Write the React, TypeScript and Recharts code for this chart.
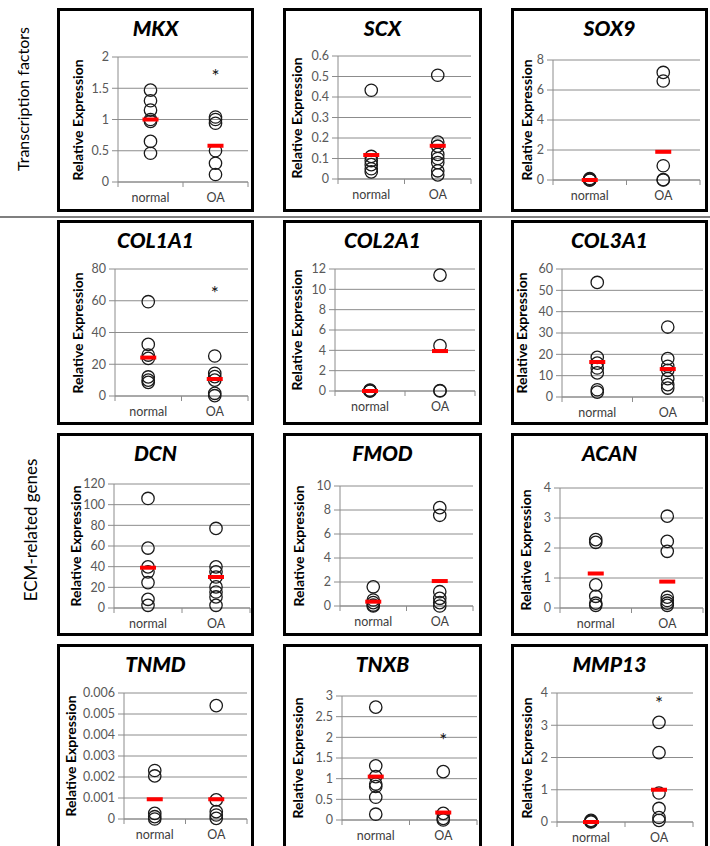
import { ScatterChart, Scatter, XAxis, YAxis, CartesianGrid } from 'recharts'

const GROUPS = ['normal', 'OA']

// values, one set per gene
const mkxNormal = [1.47, 1.3, 1.15, 1.0, 0.97, 0.65, 0.46]
const mkxOA = [1.04, 1.0, 0.94, 0.5, 0.3, 0.12]
const mkxMeans = [1.0, 0.58]
const mkxTicks = [0, 0.5, 1, 1.5, 2]

const scxNormal = [0.433, 0.11, 0.09, 0.07, 0.05, 0.035]
const scxOA = [0.506, 0.18, 0.16, 0.12, 0.1, 0.08, 0.04, 0.02]
const scxMeans = [0.117, 0.162]
const scxTicks = [0, 0.1, 0.2, 0.3, 0.4, 0.5, 0.6]

const sox9Normal = [0.1, 0.05, 0, 0]
const sox9OA = [7.17, 6.6, 0.95, 0.02, 0]
const sox9Means = [0, 1.88]
const sox9Ticks = [0, 2, 4, 6, 8]

const col1a1Normal = [59.4, 32.5, 25.8, 23.7, 12, 10, 8.6]
const col1a1OA = [25.2, 14.3, 12.2, 10, 1.7, 0.2]
const col1a1Means = [24.2, 10.7]
const col1a1Ticks = [0, 20, 40, 60, 80]

const col2a1Normal = [0.1, 0.05, 0, 0]
const col2a1OA = [11.4, 4.46, 0.05, 0]
const col2a1Means = [0, 3.93]
const col2a1Ticks = [0, 2, 4, 6, 8, 10, 12]

const col3a1Normal = [53.7, 18.6, 15.9, 13.6, 11.3, 3.4, 2.3]
const col3a1OA = [32.8, 18, 14.4, 12.5, 8.6, 5.8, 4.2]
const col3a1Means = [16.4, 13.1]
const col3a1Ticks = [0, 10, 20, 30, 40, 50, 60]

const dcnNormal = [106, 58, 39.8, 35, 24.6, 8.4, 2.6]
const dcnOA = [77, 39.8, 35, 30, 20.4, 15.5, 10.7, 2.6]
const dcnMeans = [39, 30]
const dcnTicks = [0, 20, 40, 60, 80, 100, 120]

const fmodNormal = [1.6, 0.5, 0.28, 0.08, 0]
const fmodOA = [8.2, 7.56, 1.19, 0.64, 0.28, 0]
const fmodMeans = [0.36, 2.08]
const fmodTicks = [0, 2, 4, 6, 8, 10]

const acanNormal = [2.28, 2.19, 0.77, 0.39, 0.16, 0.09]
const acanOA = [3.06, 2.22, 1.89, 0.36, 0.25, 0.16, 0.09]
const acanMeans = [1.15, 0.88]
const acanTicks = [0, 1, 2, 3, 4]

const tnmdNormal = [0.00231, 0.00205, 0.00027, 0.00011, 0]
const tnmdOA = [0.0054, 0.00091, 0.00035, 0.00019, 0.00003]
const tnmdMeans = [0.00094, 0.00094]
const tnmdTicks = [0, 0.001, 0.002, 0.003, 0.004, 0.005, 0.006]

const tnxbNormal = [2.73, 1.31, 1.05, 0.87, 0.81, 0.55, 0.14]
const tnxbOA = [1.17, 0.16, 0.04, 0]
const tnxbMeans = [1.05, 0.18]
const tnxbTicks = [0, 0.5, 1, 1.5, 2, 2.5, 3]

const mmp13Normal = [0.05, 0.02, 0]
const mmp13OA = [3.09, 2.15, 0.9, 0.42, 0.14, 0.05]
const mmp13Means = [0, 1.0]
const mmp13Ticks = [0, 1, 2, 3, 4]

// significance stars (OA column)
const mkxStar = 1.72
const col1a1Star = 65.3
const tnxbStar = 1.96
const mmp13Star = 3.71

interface Gene {
  name: string
  normal: number[]
  oa: number[]
  means: number[]
  ticks: number[]
  star?: number
}

const GENES: Gene[] = [
  { name: 'MKX', normal: mkxNormal, oa: mkxOA, means: mkxMeans, ticks: mkxTicks, star: mkxStar },
  { name: 'SCX', normal: scxNormal, oa: scxOA, means: scxMeans, ticks: scxTicks },
  { name: 'SOX9', normal: sox9Normal, oa: sox9OA, means: sox9Means, ticks: sox9Ticks },
  { name: 'COL1A1', normal: col1a1Normal, oa: col1a1OA, means: col1a1Means, ticks: col1a1Ticks, star: col1a1Star },
  { name: 'COL2A1', normal: col2a1Normal, oa: col2a1OA, means: col2a1Means, ticks: col2a1Ticks },
  { name: 'COL3A1', normal: col3a1Normal, oa: col3a1OA, means: col3a1Means, ticks: col3a1Ticks },
  { name: 'DCN', normal: dcnNormal, oa: dcnOA, means: dcnMeans, ticks: dcnTicks },
  { name: 'FMOD', normal: fmodNormal, oa: fmodOA, means: fmodMeans, ticks: fmodTicks },
  { name: 'ACAN', normal: acanNormal, oa: acanOA, means: acanMeans, ticks: acanTicks },
  { name: 'TNMD', normal: tnmdNormal, oa: tnmdOA, means: tnmdMeans, ticks: tnmdTicks },
  { name: 'TNXB', normal: tnxbNormal, oa: tnxbOA, means: tnxbMeans, ticks: tnxbTicks, star: tnxbStar },
  { name: 'MMP13', normal: mmp13Normal, oa: mmp13OA, means: mmp13Means, ticks: mmp13Ticks, star: mmp13Star },
]

// panel geometry: box position, axis x, plot top/bottom/right, y-label x (all offsets from box outer edge)
const COL_X = [57, 283, 511]
const COL_W = [197, 199, 197]
const ROW_Y = [8, 220, 433, 644]
const ROW_H = [204, 205, 203, 212]
const LAYOUT: Record<string, { axis: number; top: number; bottom: number; right: number; lab: number }> = {
  MKX: { axis: 61, top: 49, bottom: 174, right: 191, lab: 20 },
  SCX: { axis: 55, top: 48, bottom: 171, right: 188, lab: 13 },
  SOX9: { axis: 42, top: 52, bottom: 172, right: 189, lab: 15 },
  COL1A1: { axis: 58, top: 49, bottom: 176, right: 191, lab: 20 },
  COL2A1: { axis: 52, top: 49, bottom: 171, right: 192, lab: 13 },
  COL3A1: { axis: 51, top: 49, bottom: 177, right: 192, lab: 10 },
  DCN: { axis: 57, top: 51, bottom: 175, right: 193, lab: 18 },
  FMOD: { axis: 57, top: 53, bottom: 173, right: 190, lab: 15 },
  ACAN: { axis: 49, top: 55, bottom: 178, right: 192, lab: 14 },
  TNMD: { axis: 67, top: 49, bottom: 175, right: 190, lab: 13 },
  TNXB: { axis: 59, top: 52, bottom: 176, right: 194, lab: 14 },
  MMP13: { axis: 46, top: 49, bottom: 178, right: 182, lab: 15 },
}

const FONT = 'Lato, "Open Sans", sans-serif'
const GRID = '#8c8c8c'
const B = 3 // panel border

const Ring = (p: any) => (
  <circle cx={p.cx} cy={p.cy} r={6.2} fill="none" stroke="#1a1a1a" strokeWidth={1.3} />
)
const MeanBar = (p: any) => <rect x={p.cx - 8} y={p.cy - 2} width={16} height={4} fill="#ff0000" />
const Star = (p: any) => (
  <text x={p.cx} y={p.cy + 8} textAnchor="middle" fontSize={19} fill="#111">*</text>
)

function XTick(props: any) {
  const { x, y, payload } = props
  const v = payload.value
  if (v === 0.5 || v === 1.5) {
    return (
      <text x={x} y={y + 15} textAnchor="middle" fontSize={12.5} fill="#404040">
        {GROUPS[v === 0.5 ? 0 : 1]}
      </text>
    )
  }
  return <line x1={x} x2={x} y1={y - 5} y2={y} stroke={GRID} />
}

function Panel({ gene, row, col }: { gene: Gene; row: number; col: number }) {
  const L = LAYOUT[gene.name]
  const w = COL_W[col] - 2 * B
  const h = ROW_H[row] - 2 * B
  const xh = 25
  const plotBottom = L.bottom - B
  const margin = {
    top: L.top - B,
    left: 0,
    right: w - (L.right - B),
    bottom: Math.max(0, h - plotBottom - xh),
  }
  const ymax = gene.ticks[gene.ticks.length - 1]
  const normalPts = gene.normal.map((y) => ({ x: 0.5, y }))
  const oaPts = gene.oa.map((y) => ({ x: 1.5, y }))
  const meanPts = gene.means.map((y, i) => ({ x: i + 0.5, y }))
  const starPts = gene.star !== undefined ? [{ x: 1.5, y: gene.star }] : []
  const midY = (L.top + L.bottom) / 2 - B

  return (
    <div
      style={{
        position: 'absolute',
        left: COL_X[col],
        top: ROW_Y[row],
        width: COL_W[col],
        height: ROW_H[row],
        border: `${B}px solid #000`,
        boxSizing: 'border-box',
        background: '#fff',
      }}
    >
      <div
        style={{
          position: 'absolute',
          left: 0,
          width: w,
          top: 19 - B,
          transform: 'translateY(-50%)',
          textAlign: 'center',
          fontWeight: 900,
          fontStyle: 'italic',
          fontSize: 21,
          color: '#000',
        }}
      >
        {gene.name}
      </div>
      <div
        style={{
          position: 'absolute',
          left: L.lab - B,
          top: midY,
          transform: 'translate(-50%, -50%) rotate(-90deg)',
          whiteSpace: 'nowrap',
          fontWeight: 700,
          fontSize: 14,
          color: '#000',
        }}
      >
        Relative Expression
      </div>
      <div style={{ position: 'absolute', left: 0, top: 0 }}>
        <ScatterChart width={w} height={h} margin={margin}>
          <CartesianGrid horizontal vertical={false} stroke={GRID} />
          <XAxis
            type="number"
            dataKey="x"
            domain={[0, 2]}
            ticks={[0, 0.5, 1, 1.5, 2]}
            interval={0}
            tick={<XTick />}
            tickLine={false}
            tickSize={5}
            tickMargin={0}
            height={xh}
            axisLine={{ stroke: GRID }}
          />
          <YAxis
            type="number"
            dataKey="y"
            domain={[0, ymax]}
            ticks={gene.ticks}
            interval={0}
            width={L.axis - B}
            tickSize={6}
            tickMargin={3}
            tick={{ fill: '#595959', fontSize: 12.5 }}
            tickLine={{ stroke: GRID }}
            axisLine={{ stroke: GRID }}
            tickFormatter={(v: number) => String(v)}
          />
          <Scatter data={normalPts} shape={Ring} isAnimationActive={false} />
          <Scatter data={oaPts} shape={Ring} isAnimationActive={false} />
          <Scatter data={meanPts} shape={MeanBar} isAnimationActive={false} />
          {starPts.length > 0 && <Scatter data={starPts} shape={Star} isAnimationActive={false} />}
        </ScatterChart>
      </div>
    </div>
  )
}

export default function App() {
  return (
    <div
      style={{
        position: 'absolute',
        left: 0,
        top: 0,
        width: 710,
        height: 846,
        overflow: 'hidden',
        background: '#fff',
        fontFamily: FONT,
      }}
    >
      {/* section labels */}
      <div
        style={{
          position: 'absolute',
          left: 22,
          top: 99,
          transform: 'translate(-50%, -50%) rotate(-90deg)',
          whiteSpace: 'nowrap',
          fontSize: 16,
          color: '#000',
        }}
      >
        Transcription factors
      </div>
      <div
        style={{
          position: 'absolute',
          left: 30,
          top: 530,
          transform: 'translate(-50%, -50%) rotate(-90deg)',
          whiteSpace: 'nowrap',
          fontSize: 17,
          color: '#000',
        }}
      >
        ECM-related genes
      </div>
      <div style={{ position: 'absolute', left: 0, top: 216, width: 710, height: 2, background: '#7f7f7f' }} />

      {GENES.map((g, i) => (
        <Panel key={g.name} gene={g} row={Math.floor(i / 3)} col={i % 3} />
      ))}
    </div>
  )
}
